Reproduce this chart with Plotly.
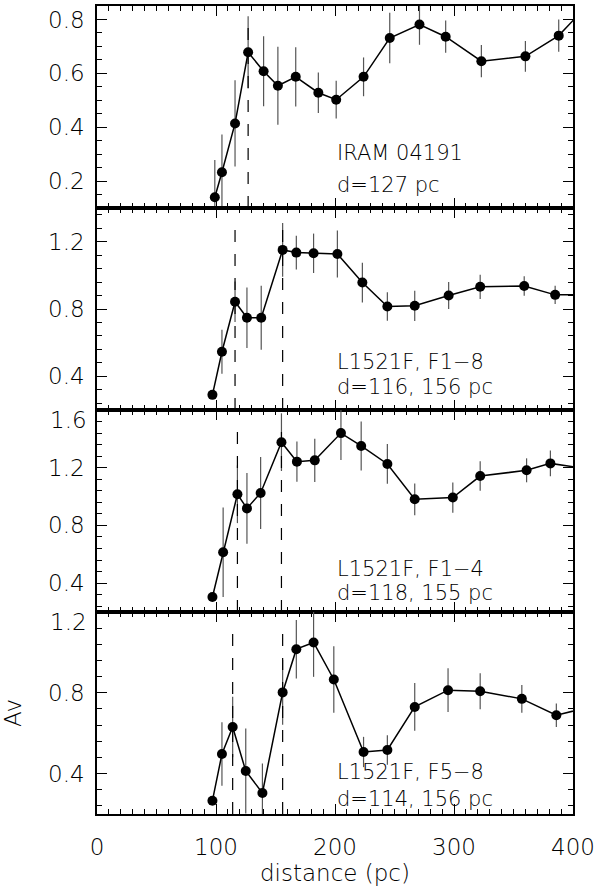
import plotly.graph_objects as go
from plotly.subplots import make_subplots

# ---- data ----
p1_x = [99, 105, 116, 127, 140, 152, 167, 186, 201, 224, 246, 271, 293, 323, 360, 388, 420]
p1_y = [0.14, 0.233, 0.414, 0.678, 0.608, 0.554, 0.587, 0.528, 0.502, 0.587, 0.731, 0.781, 0.736, 0.645, 0.663, 0.74, 0.89]
p1_e = [0.138, 0.14, 0.16, 0.134, 0.13, 0.145, 0.11, 0.075, 0.07, 0.072, 0.094, 0.075, 0.06, 0.06, 0.057, 0.06, 0.06]

p2_x = [97, 105, 116, 126, 138, 156, 167.5, 182, 202, 223, 244, 267, 295.5, 322, 359, 385, 420]
p2_y = [0.29, 0.546, 0.843, 0.748, 0.748, 1.151, 1.135, 1.131, 1.127, 0.957, 0.815, 0.819, 0.88, 0.932, 0.937, 0.884, 0.884]
p2_e = [0, 0.13, 0.12, 0.18, 0.19, 0.16, 0.1, 0.117, 0.14, 0.118, 0.085, 0.09, 0.08, 0.072, 0.058, 0.054, 0.05]

p3_x = [97, 106, 118, 126, 137.5, 155, 168, 183, 205, 222, 244, 267, 299, 322, 361, 381, 420]
p3_y = [0.304, 0.614, 1.016, 0.918, 1.025, 1.377, 1.242, 1.251, 1.44, 1.351, 1.226, 0.981, 0.993, 1.142, 1.182, 1.23, 1.183]
p3_e = [0, 0.31, 0.2, 0.245, 0.25, 0.2, 0.14, 0.15, 0.186, 0.17, 0.138, 0.11, 0.105, 0.102, 0.083, 0.089, 0.08]

p4_x = [97, 105, 114, 125, 139, 156, 167.5, 182, 199, 224, 244, 267, 295, 322, 357, 386, 420]
p4_y = [0.266, 0.497, 0.631, 0.413, 0.304, 0.802, 1.016, 1.049, 0.866, 0.507, 0.517, 0.73, 0.813, 0.808, 0.77, 0.689, 0.738]
p4_e = [0, 0.157, 0.15, 0.21, 0.146, 0.16, 0.145, 0.17, 0.165, 0.075, 0.073, 0.118, 0.108, 0.089, 0.069, 0.058, 0.05]

cloud_distances = [[127], [116, 156], [118, 155], [114, 156]]
panel_names = ["IRAM 04191", "L1521F, F1\u22128", "L1521F, F1\u22124", "L1521F, F5\u22128"]
panel_dists = ["d=127 pc", "d=116, 156 pc", "d=118, 155 pc", "d=114, 156 pc"]

y_ranges = [[0.1, 0.85], [0.2, 1.4], [0.2, 1.6], [0.2, 1.2]]
y_tickvals = [[0.2, 0.4, 0.6, 0.8], [0.4, 0.8, 1.2], [0.4, 0.8, 1.2, 1.6], [0.4, 0.8, 1.2]]
y_minor = [0.05, 0.08, 0.08, 0.08]
x_tickvals = [0, 100, 200, 300, 400]

xs = [p1_x, p2_x, p3_x, p4_x]
ys = [p1_y, p2_y, p3_y, p4_y]
es = [p1_e, p2_e, p3_e, p4_e]

FONT = "DejaVu Sans"
TICKFONT = dict(family=FONT, size=23, color="#000", weight=200)
LABELFONT = dict(family=FONT, size=21, color="#000", weight=200)

fig = make_subplots(rows=4, cols=1, shared_xaxes=True, vertical_spacing=0)

for i in range(4):
    fig.add_trace(go.Scatter(
        x=xs[i], y=ys[i], mode="lines+markers",
        line=dict(color="black", width=1.5),
        marker=dict(color="black", size=10),
        error_y=dict(type="data", array=es[i], visible=True, color="#555",
                     thickness=1.2, width=0),
        showlegend=False, cliponaxis=True,
    ), row=i + 1, col=1)

    for d in cloud_distances[i]:
        fig.add_shape(type="line", x0=d, x1=d, y0=0, y1=0.935,
                      xref=f"x{i+1}" if i else "x", yref=f"y{i+1} domain" if i else "y domain",
                      line=dict(color="black", width=1.2, dash="12px,12px"))

    ticktext = [f"{v:.1f}" for v in y_tickvals[i]]
    if i in (2, 3):
        ticktext[-1] = ""
    fig.update_yaxes(
        range=y_ranges[i], tickvals=y_tickvals[i], ticktext=ticktext,
        ticks="inside", ticklen=10, tickwidth=1.2, tickcolor="black",
        showline=True, linecolor="black", linewidth=1.5, mirror="ticks",
        showgrid=False, zeroline=False, tickfont=TICKFONT, ticklabelstandoff=6,
        automargin=False,
        minor=dict(ticks="inside", dtick=y_minor[i], tick0=0, ticklen=5,
                   tickwidth=1.2, tickcolor="black", showgrid=False),
        row=i + 1, col=1)
    fig.update_xaxes(
        range=[0, 400], tickvals=x_tickvals,
        ticks="inside", ticklen=10, tickwidth=1.2, tickcolor="black",
        showline=True, linecolor="black", linewidth=1.5, mirror="ticks",
        showgrid=False, zeroline=False, tickfont=TICKFONT, automargin=False,
        ticklabelstandoff=12,
        minor=dict(ticks="inside", dtick=10, tick0=0, ticklen=5,
                   tickwidth=1.2, tickcolor="black", showgrid=False),
        row=i + 1, col=1)

# panel labels
name_pos = [0.272, 0.239, 0.213, 0.209]
dist_pos = [0.114, 0.115, 0.096, 0.073]
for i in range(4):
    yref = f"y{i+1} domain" if i else "y domain"
    xref = f"x{i+1}" if i else "x"
    fig.add_annotation(text=panel_names[i], x=200, y=name_pos[i], xref=xref, yref=yref,
                       xanchor="left", yanchor="middle", showarrow=False, font=LABELFONT)
    fig.add_annotation(text=panel_dists[i], x=200, y=dist_pos[i], xref=xref, yref=yref,
                       xanchor="left", yanchor="middle", showarrow=False, font=LABELFONT)

# top tick labels of panels 3 and 4 sit just below the panel edge
for yref, val in (("y3", 1.6), ("y4", 1.2)):
    fig.add_annotation(text=f"{val:.1f}", x=0, y=val, xref="paper", yref=yref,
                       xanchor="right", yanchor="middle", xshift=-8, yshift=-10,
                       showarrow=False, font=TICKFONT)

fig.update_xaxes(title=dict(text="distance (pc)", font=TICKFONT, standoff=6), row=4, col=1)
fig.update_yaxes(title=dict(text="Av", font=TICKFONT, standoff=22), row=4, col=1)

fig.update_layout(
    width=600, height=891,
    margin=dict(l=97, r=27, t=6, b=77),
    paper_bgcolor="white", plot_bgcolor="white",
    font=dict(family=FONT, color="#000"),
)

fig.write_html("out.html", config={"displayModeBar": False},
               post_script="document.body.style.margin='0px';")
